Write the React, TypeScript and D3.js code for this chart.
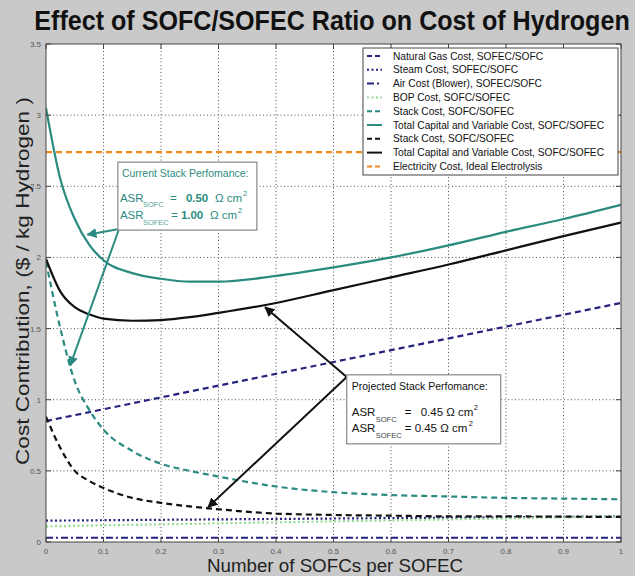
import { scaleLinear, line, curveMonotoneX } from "d3";

// sampled x positions for the curved series
const xs = [0, 0.025, 0.05, 0.075, 0.1, 0.15, 0.2, 0.25, 0.3, 0.4, 0.5, 0.6, 0.7, 0.8, 0.9, 1];
const totalCurrent = [3.05, 2.55, 2.27, 2.09, 1.98, 1.89, 1.85, 1.83, 1.83, 1.87, 1.93, 2.0, 2.085, 2.18, 2.27, 2.37];
const totalProjected = [1.99, 1.76, 1.65, 1.6, 1.57, 1.555, 1.56, 1.58, 1.61, 1.68, 1.77, 1.86, 1.95, 2.05, 2.15, 2.245];
const stackCurrent = [1.97, 1.5, 1.13, 0.93, 0.79, 0.64, 0.55, 0.5, 0.46, 0.39, 0.35, 0.33, 0.32, 0.31, 0.305, 0.3];
const stackProjected = [0.88, 0.66, 0.5, 0.43, 0.38, 0.31, 0.275, 0.25, 0.23, 0.2, 0.19, 0.185, 0.18, 0.18, 0.178, 0.176];

// straight series, end points only
const ends = [0, 1];
const naturalGas = [0.85, 1.68];
const steam = [0.15, 0.18];
const air = [0.03, 0.03];
const bop = [0.11, 0.18];
const electricity = [2.74, 2.74];

const xTicks = [0, 0.1, 0.2, 0.3, 0.4, 0.5, 0.6, 0.7, 0.8, 0.9, 1];
const yTicks = [0, 0.5, 1, 1.5, 2, 2.5, 3, 3.5];

const NAVY = "#25237e";
const TEAL = "#2b8b80";
const GREEN = "#93dc8f";
const ORANGE = "#f28a1e";

const series = [
  { label: "Natural Gas Cost, SOFEC/SOFC", x: ends, y: naturalGas, color: NAVY, dash: "6,4" },
  { label: "Steam Cost, SOFEC/SOFC", x: ends, y: steam, color: NAVY, dash: "2,2.5" },
  { label: "Air Cost (Blower), SOFEC/SOFC", x: ends, y: air, color: NAVY, dash: "7,3,2,3" },
  { label: "BOP Cost, SOFC/SOFEC", x: ends, y: bop, color: GREEN, dash: "2,2.5" },
  { label: "Stack Cost, SOFC/SOFEC", x: xs, y: stackCurrent, color: TEAL, dash: "6,4" },
  { label: "Total Capital and Variable Cost, SOFC/SOFEC", x: xs, y: totalCurrent, color: TEAL, dash: "" },
  { label: "Stack Cost, SOFC/SOFEC", x: xs, y: stackProjected, color: "#111", dash: "6,4" },
  { label: "Total Capital and Variable Cost, SOFC/SOFEC", x: xs, y: totalProjected, color: "#111", dash: "" },
  { label: "Electricity Cost, Ideal Electrolysis", x: ends, y: electricity, color: ORANGE, dash: "6,4" },
];

const W = 635;
const H = 576;
const FONT = "'Liberation Sans', Arial, sans-serif";

export default function App() {
  const x = scaleLinear().domain([0, 1]).range([46, 621]);
  const y = scaleLinear().domain([0, 3.5]).range([542, 44]);
  const [x0, x1] = x.range();
  const [y0, y1] = y.range();

  const pathFor = (s: typeof series[number]) =>
    line<number>()
      .x((_, i) => x(s.x[i]))
      .y((d) => y(d))
      .curve(curveMonotoneX)(s.y) ?? "";

  // annotation anchors in data coordinates
  const curBox = { x: x(0.125), y: y(2.67), w: 139, h: 68 };
  const projBox = { x: x(0.523), y: y(1.175), w: 154, h: 69 };
  const tealStart = [x(0.127), y(2.2)];
  const tealTips = [[x(0.072), y(2.16)], [x(0.042), y(1.24)]];
  const blackStart = [x(0.523), y(1.16)];
  const blackTips = [[x(0.381), y(1.65)], [x(0.282), y(0.245)]];

  return (
    <svg width={W} height={H} style={{ position: "absolute", left: 0, top: 0 }} fontFamily={FONT}>
      <defs>
        <marker id="tealHead" viewBox="0 0 10 10" refX="9" refY="5" markerWidth="5" markerHeight="5" orient="auto">
          <path d="M0,0 L10,5 L0,10 z" fill={TEAL} />
        </marker>
        <marker id="blackHead" viewBox="0 0 10 10" refX="9" refY="5" markerWidth="5" markerHeight="5" orient="auto">
          <path d="M0,0 L10,5 L0,10 z" fill="#111" />
        </marker>
        <clipPath id="plotClip">
          <rect x={x0} y={y1} width={x1 - x0} height={y0 - y1} />
        </clipPath>
      </defs>

      <rect width={W} height={H} fill="#c9c9c9" />
      <rect x={x0} y={y1} width={x1 - x0} height={y0 - y1} fill="#fff" />

      {/* grid */}
      {xTicks.slice(1, -1).map((t) => (
        <line key={"gx" + t} x1={x(t)} x2={x(t)} y1={y1} y2={y0} stroke="#555" strokeWidth={1} strokeDasharray="1,2.5" />
      ))}
      {yTicks.slice(1, -1).map((t) => (
        <line key={"gy" + t} x1={x0} x2={x1} y1={y(t)} y2={y(t)} stroke="#555" strokeWidth={1} strokeDasharray="1,2.5" />
      ))}

      {/* series */}
      <g clipPath="url(#plotClip)">
        {series.map((s, i) => (
          <path key={i} d={pathFor(s)} fill="none" stroke={s.color} strokeWidth={2.2} strokeDasharray={s.dash || undefined} />
        ))}
      </g>

      {/* axes frame and ticks */}
      <rect x={x0} y={y1} width={x1 - x0} height={y0 - y1} fill="none" stroke="#444" strokeWidth={1} />
      {xTicks.map((t) => (
        <g key={"tx" + t}>
          <line x1={x(t)} x2={x(t)} y1={y0} y2={y0 - 5} stroke="#444" />
          <line x1={x(t)} x2={x(t)} y1={y1} y2={y1 + 5} stroke="#444" />
          <text x={x(t)} y={y0 + 12} fontSize={8} fill="#555" textAnchor="middle">{String(t)}</text>
        </g>
      ))}
      {yTicks.map((t) => (
        <g key={"ty" + t}>
          <line x1={x0} x2={x0 + 5} y1={y(t)} y2={y(t)} stroke="#444" />
          <line x1={x1} x2={x1 - 5} y1={y(t)} y2={y(t)} stroke="#444" />
          <text x={x0 - 5} y={y(t) + 3} fontSize={8} fill="#555" textAnchor="end">{String(t)}</text>
        </g>
      ))}

      {/* legend */}
      <rect x={363} y={48} width={255} height={127} fill="#fff" stroke="#444" strokeWidth={1} />
      {series.map((s, i) => {
        const ly = 59.5 + i * 13.8;
        return (
          <g key={"lg" + i}>
            <line x1={367} x2={382} y1={ly - 3.5} y2={ly - 3.5} stroke={s.color} strokeWidth={2} strokeDasharray={s.dash ? (s.dash === "6,4" ? "5,3" : s.dash) : undefined} />
            <text x={393} y={ly} fontSize={10.2} fill="#111">{s.label}</text>
          </g>
        );
      })}

      {/* current stack annotation */}
      {tealTips.map(([tx, ty], i) => (
        <line key={"ta" + i} x1={tealStart[0]} y1={tealStart[1]} x2={tx} y2={ty} stroke={TEAL} strokeWidth={2} markerEnd="url(#tealHead)" />
      ))}
      <rect x={curBox.x} y={curBox.y} width={curBox.w} height={curBox.h} fill="#fff" stroke="#888" strokeWidth={1.2} />
      <g fill={TEAL}>
        <text x={curBox.x + 4} y={curBox.y + 15} fontSize={10.5}>Current Stack Perfomance:</text>
        <text x={curBox.x + 2} y={curBox.y + 40} fontSize={11.5}>ASR</text>
        <text x={curBox.x + 25} y={curBox.y + 45} fontSize={7.5} fill="#5aa79d">SOFC</text>
        <text x={curBox.x + 52} y={curBox.y + 40} fontSize={11.5}>=</text>
        <text x={curBox.x + 68} y={curBox.y + 40} fontSize={11.5} fontWeight="bold">0.50</text>
        <text x={curBox.x + 97} y={curBox.y + 40} fontSize={11.5}>Ω cm</text>
        <text x={curBox.x + 125} y={curBox.y + 34} fontSize={7.5}>2</text>
        <text x={curBox.x + 2} y={curBox.y + 57} fontSize={11.5}>ASR</text>
        <text x={curBox.x + 25} y={curBox.y + 63} fontSize={7.5} fill="#5aa79d">SOFEC</text>
        <text x={curBox.x + 53} y={curBox.y + 57} fontSize={11.5}>=</text>
        <text x={curBox.x + 63} y={curBox.y + 57} fontSize={11.5} fontWeight="bold">1.00</text>
        <text x={curBox.x + 92} y={curBox.y + 57} fontSize={11.5}>Ω cm</text>
        <text x={curBox.x + 120} y={curBox.y + 51} fontSize={7.5}>2</text>
      </g>

      {/* projected stack annotation */}
      {blackTips.map(([tx, ty], i) => (
        <line key={"ba" + i} x1={blackStart[0]} y1={blackStart[1]} x2={tx} y2={ty} stroke="#111" strokeWidth={2} markerEnd="url(#blackHead)" />
      ))}
      <rect x={projBox.x} y={projBox.y} width={projBox.w} height={projBox.h} fill="#fff" stroke="#888" strokeWidth={1.2} />
      <g fill="#111">
        <text x={projBox.x + 5} y={projBox.y + 15} fontSize={10.5}>Projected Stack Perfomance:</text>
        <text x={projBox.x + 5} y={projBox.y + 41} fontSize={11.5}>ASR</text>
        <text x={projBox.x + 29} y={projBox.y + 47} fontSize={7.5} fill="#444">SOFC</text>
        <text x={projBox.x + 58} y={projBox.y + 41} fontSize={11.5}>=</text>
        <text x={projBox.x + 74} y={projBox.y + 41} fontSize={11.5}>0.45 Ω cm</text>
        <text x={projBox.x + 127} y={projBox.y + 35} fontSize={7.5}>2</text>
        <text x={projBox.x + 5} y={projBox.y + 57} fontSize={11.5}>ASR</text>
        <text x={projBox.x + 29} y={projBox.y + 63} fontSize={7.5} fill="#444">SOFEC</text>
        <text x={projBox.x + 58} y={projBox.y + 57} fontSize={11.5}>= 0.45 Ω cm</text>
        <text x={projBox.x + 122} y={projBox.y + 51} fontSize={7.5}>2</text>
      </g>

      {/* titles */}
      <text transform="translate(332,30) scale(0.93,1)" fontSize={27} fontWeight="bold" textAnchor="middle" fill="#111">
        Effect of SOFC/SOFEC Ratio on Cost of Hydrogen
      </text>
      <text x={335} y={572} fontSize={18} textAnchor="middle" textLength={256} lengthAdjust="spacingAndGlyphs" fill="#222">
        Number of SOFCs per SOFEC
      </text>
      <text transform={`translate(29,281) rotate(-90)`} fontSize={18} textAnchor="middle" textLength={368} lengthAdjust="spacingAndGlyphs" fill="#222">
        Cost Contribution, ($ / kg Hydrogen )
      </text>
    </svg>
  );
}
